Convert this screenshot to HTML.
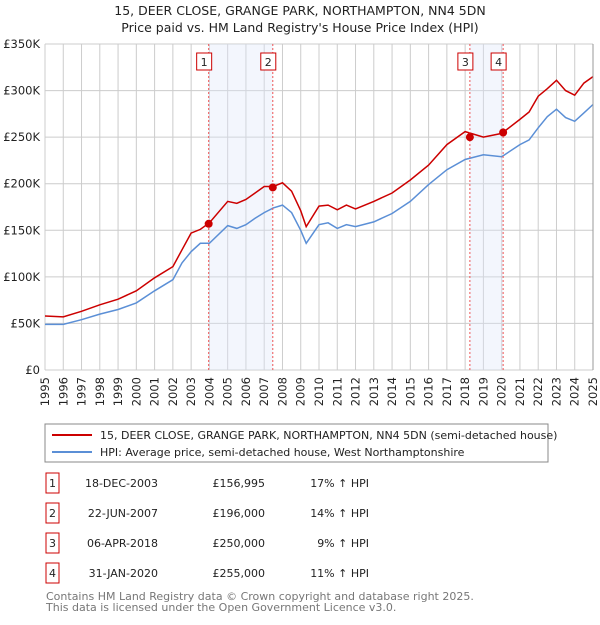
<!DOCTYPE html>
<html><head><meta charset="utf-8"><style>
body{margin:0;background:#fff;font-family:"Liberation Sans","DejaVu Sans",sans-serif;}
svg text{font-family:"DejaVu Sans","Liberation Sans",sans-serif;}
</style></head><body>
<svg id="chart" width="600" height="620" xmlns="http://www.w3.org/2000/svg">
<text x="300" y="15" text-anchor="middle" font-size="12.5" fill="#222">15, DEER CLOSE, GRANGE PARK, NORTHAMPTON, NN4 5DN</text>
<text x="300" y="32" text-anchor="middle" font-size="12.5" fill="#222">Price paid vs. HM Land Registry's House Price Index (HPI)</text>
<g id="grid"></g><g id="shade"></g><g id="lines"></g><g id="marks"></g><g id="axes"></g>
<g>
<rect x="45" y="424" width="503" height="38" fill="#fff" stroke="#888"/>
<line x1="52" y1="435" x2="92" y2="435" stroke="#cc0000" stroke-width="2"/>
<text x="100" y="439" font-size="11" fill="#222">15, DEER CLOSE, GRANGE PARK, NORTHAMPTON, NN4 5DN (semi-detached house)</text>
<line x1="52" y1="452" x2="92" y2="452" stroke="#5b8fd6" stroke-width="2"/>
<text x="100" y="456" font-size="11" fill="#222">HPI: Average price, semi-detached house, West Northamptonshire</text>
</g>
<g id="table" font-size="11" fill="#222"></g>
<text x="46" y="600" font-size="11" fill="#777">Contains HM Land Registry data © Crown copyright and database right 2025.</text>
<text x="46" y="611" font-size="11" fill="#777">This data is licensed under the Open Government Licence v3.0.</text>
</svg>
<script>
const years=[1995,1996,1997,1998,1999,2000,2001,2002,2002.5,2003,2003.5,2004,2005,2005.5,2006,2006.5,2007,2007.5,2008,2008.5,2009,2009.3,2010,2010.5,2011,2011.5,2012,2013,2014,2015,2016,2017,2018,2019,2020,2021,2021.5,2022,2022.5,2023,2023.5,2024,2024.5,2025];
const hpi=[49,49,54,60,65,72,85,97,115,127,136,136,155,152,156,163,169,174,177,169,150,136,156,158,152,156,154,159,168,181,199,215,226,231,229,242,247,260,272,280,271,267,276,285];
const price=[58,57,63,70,76,85,99,111,129,147,151,158,181,179,183,190,197,197,201,192,171,154,176,177,172,177,173,181,190,204,220,242,256,250,254,269,277,294,302,311,300,295,308,315];
const saleDates=[2003.96,2007.47,2018.26,2020.08];
const saleValues=[156.995,196,250,255];
const saleLabels=["1","2","3","4"];
const saleDateText=["18-DEC-2003","22-JUN-2007","06-APR-2018","31-JAN-2020"];
const salePriceText=["£156,995","£196,000","£250,000","£255,000"];
const salePctText=["17% ↑ HPI","14% ↑ HPI","9% ↑ HPI","11% ↑ HPI"];
const yTicks=[0,50,100,150,200,250,300,350];
const yTickLabels=["£0","£50K","£100K","£150K","£200K","£250K","£300K","£350K"];
const xTicks=[1995,1996,1997,1998,1999,2000,2001,2002,2003,2004,2005,2006,2007,2008,2009,2010,2011,2012,2013,2014,2015,2016,2017,2018,2019,2020,2021,2022,2023,2024,2025];
const NS="http://www.w3.org/2000/svg";
const X0=45,X1=593,Y0=370,Y1=44;
const xs=y=>X0+(y-1995)/30*(X1-X0);
const ys=v=>Y0-v/350*(Y0-Y1);
function mk(t,a,p){const e=document.createElementNS(NS,t);for(const k in a)e.setAttribute(k,a[k]);p.appendChild(e);return e;}
const grid=document.getElementById('grid'),axes=document.getElementById('axes');
yTicks.forEach((v,i)=>{
 const l=mk('line',{x1:X0,x2:X1,y1:ys(v),y2:ys(v),stroke:'#cccccc'},grid);
 
 
 const t=mk('text',{x:40,y:ys(v)+4,'text-anchor':'end','font-size':'11.5',fill:'#222'},axes);
 t.textContent=yTickLabels[i];
 
 
});
xTicks.forEach(y=>{
 const l=mk('line',{x1:xs(y),x2:xs(y),y1:Y1,y2:Y0,stroke:'#cccccc'},grid);
 
 
 const t=mk('text',{x:0,y:0,'text-anchor':'end','font-size':'11.5',fill:'#222',transform:`translate(${xs(y)+4},377) rotate(-90)`},axes);
 t.textContent=y;
 
 
});
const rb=mk('line',{x1:X1,x2:X1,y1:Y1,y2:Y0,stroke:'#999'},axes);


const shade=document.getElementById('shade');
[[0,1],[2,3]].forEach(p=>{
 const r=mk('rect',{x:xs(saleDates[p[0]]),y:Y1,width:xs(saleDates[p[1]])-xs(saleDates[p[0]]),height:Y0-Y1,fill:'#dde6fa','fill-opacity':0.35},shade);
 
 
});
const lines=document.getElementById('lines');
function path(vals,color,name){
 const d=vals.map((v,i)=>(i?'L':'M')+xs(years[i]).toFixed(1)+','+ys(v).toFixed(1)).join('');
 const p=mk('path',{d:d,fill:'none',stroke:color,'stroke-width':1.5},lines);
 
 
}
path(hpi,'#5b8fd6','hpi-line');
path(price,'#cc0000','price-line');
const marks=document.getElementById('marks');
saleDates.forEach((d,i)=>{
 const l=mk('line',{x1:xs(d),x2:xs(d),y1:Y1,y2:Y0,stroke:'#ee5555','stroke-dasharray':'2,2'},marks);
 
 
 const c=mk('circle',{cx:xs(d),cy:ys(saleValues[i]),r:4,fill:'#cc0000'},marks);
 
 
 const r=mk('rect',{x:xs(d)-12,y:53,width:15,height:17,fill:'#fff',stroke:'#cc0000'},marks);
 
 
 const t=mk('text',{x:xs(d)-4.5,y:66,'text-anchor':'middle','font-size':'11',fill:'#222'},marks);
 t.textContent=saleLabels[i];
 
 
});
const tb=document.getElementById('table');
saleLabels.forEach((s,i)=>{
 const cy=483+i*30;
 const r=mk('rect',{x:46,y:cy-10,width:13,height:20,fill:'#fff',stroke:'#cc0000'},tb);
 
 
 const cells=[[52.5,'middle',s,'table-index'],[158,'end',saleDateText[i],'table-date'],[265,'end',salePriceText[i],'table-price'],[369,'end',salePctText[i],'table-hpi-diff']];
 cells.forEach(c=>{
  const t=mk('text',{x:c[0],y:cy+4,'text-anchor':c[1],'font-size':'11',fill:'#222'},tb);
  t.textContent=c[2];
  
  
 });
});
</script>
</body></html>
